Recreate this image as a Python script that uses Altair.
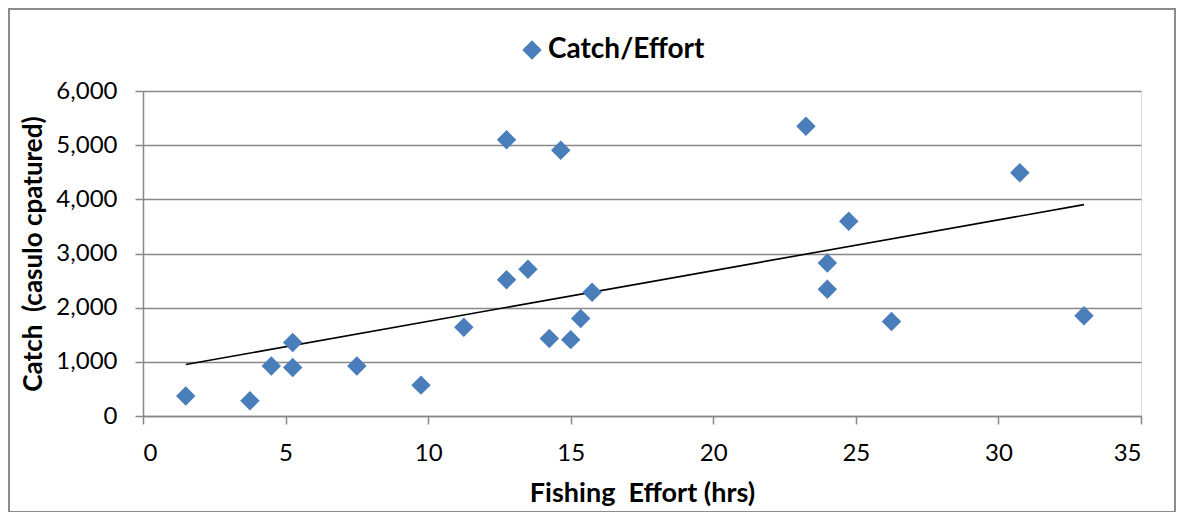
import altair as alt
import pandas as pd

effort = [1.5, 3.75, 4.5, 5.25, 5.25, 7.5, 9.75, 11.25, 12.75, 12.75, 13.5, 14.25,
          14.65, 15.0, 15.35, 15.75, 23.25, 30.75, 24.75, 24.0, 24.0, 26.25, 33.0]
catch = [370, 280, 925, 1355, 895, 925, 570, 1640, 5100, 2515, 2710, 1430,
         4905, 1410, 1800, 2285, 5350, 4490, 3595, 2825, 2340, 1745, 1850]
series_name = "Catch/Effort"
y_ticks = [0, 1000, 2000, 3000, 4000, 5000, 6000]
x_ticks = [0, 5, 10, 15, 20, 25, 30, 35]

df = pd.DataFrame({"effort": effort, "catch": catch, "series": [series_name] * len(effort)})

FONT = "Lato, Open Sans, sans-serif"
BLUE = "#4a7ebb"
GRID = "#878787"

x_enc = alt.X("effort:Q", title="Fishing \u00a0Effort (hrs)",
              scale=alt.Scale(domain=[0, 35], nice=False),
              axis=alt.Axis(values=x_ticks, grid=False, domainColor=GRID, domainWidth=1.5,
                            tickColor=GRID, tickWidth=1.5, tickSize=8, labelPadding=17,
                            labelFontSize=24, labelFont=FONT, labelColor="#000000",
                            titleFont=FONT, titleFontSize=27, titleFontWeight="bold",
                            titleColor="#000000", titlePadding=15))
y_enc = alt.Y("catch:Q", title="Catch \u00a0(casulo cpatured)",
              scale=alt.Scale(domain=[0, 6000], nice=False),
              axis=alt.Axis(values=y_ticks, format=",.0f", grid=True, gridColor=GRID, gridWidth=1.5,
                            domainColor=GRID, domainWidth=1.5, tickColor=GRID, tickWidth=1.5,
                            tickSize=8, labelPadding=18, labelFontSize=24, labelFont=FONT,
                            labelColor="#000000", titleFont=FONT, titleFontSize=26,
                            titleFontWeight="bold", titleColor="#000000", titlePadding=9))

points = alt.Chart(df).mark_point(shape="diamond", filled=True, size=380, opacity=1).encode(
    x=x_enc, y=y_enc,
    color=alt.Color("series:N", scale=alt.Scale(domain=[series_name], range=[BLUE]),
                    legend=alt.Legend(title=None, orient="none", legendX=375, legendY=-55,
                                      symbolType="diamond", symbolSize=380,
                                      labelFontSize=28, labelFont=FONT, labelFontWeight="bold",
                                      labelColor="#000000", labelOffset=2)),
)

trend = alt.Chart(df).transform_regression("effort", "catch").mark_line(
    color="#000000", strokeWidth=1.6).encode(x="effort:Q", y="catch:Q")

frame = alt.Chart(df).mark_rect(fill=None, stroke="#8c8c8c", strokeWidth=1.2).encode(
    x=alt.value(-134), x2=alt.value(1032), y=alt.value(-82), y2=alt.value(421))

chart = alt.layer(frame, trend, points).properties(
    width=998, height=325,
    autosize=alt.AutoSizeParams(type="none"),
    padding={"left": 135, "top": 83, "right": 35, "bottom": 96},
).configure_view(stroke=None).configure(background="white")

chart.save("out.html", embed_options={"renderer": "svg", "actions": False})
